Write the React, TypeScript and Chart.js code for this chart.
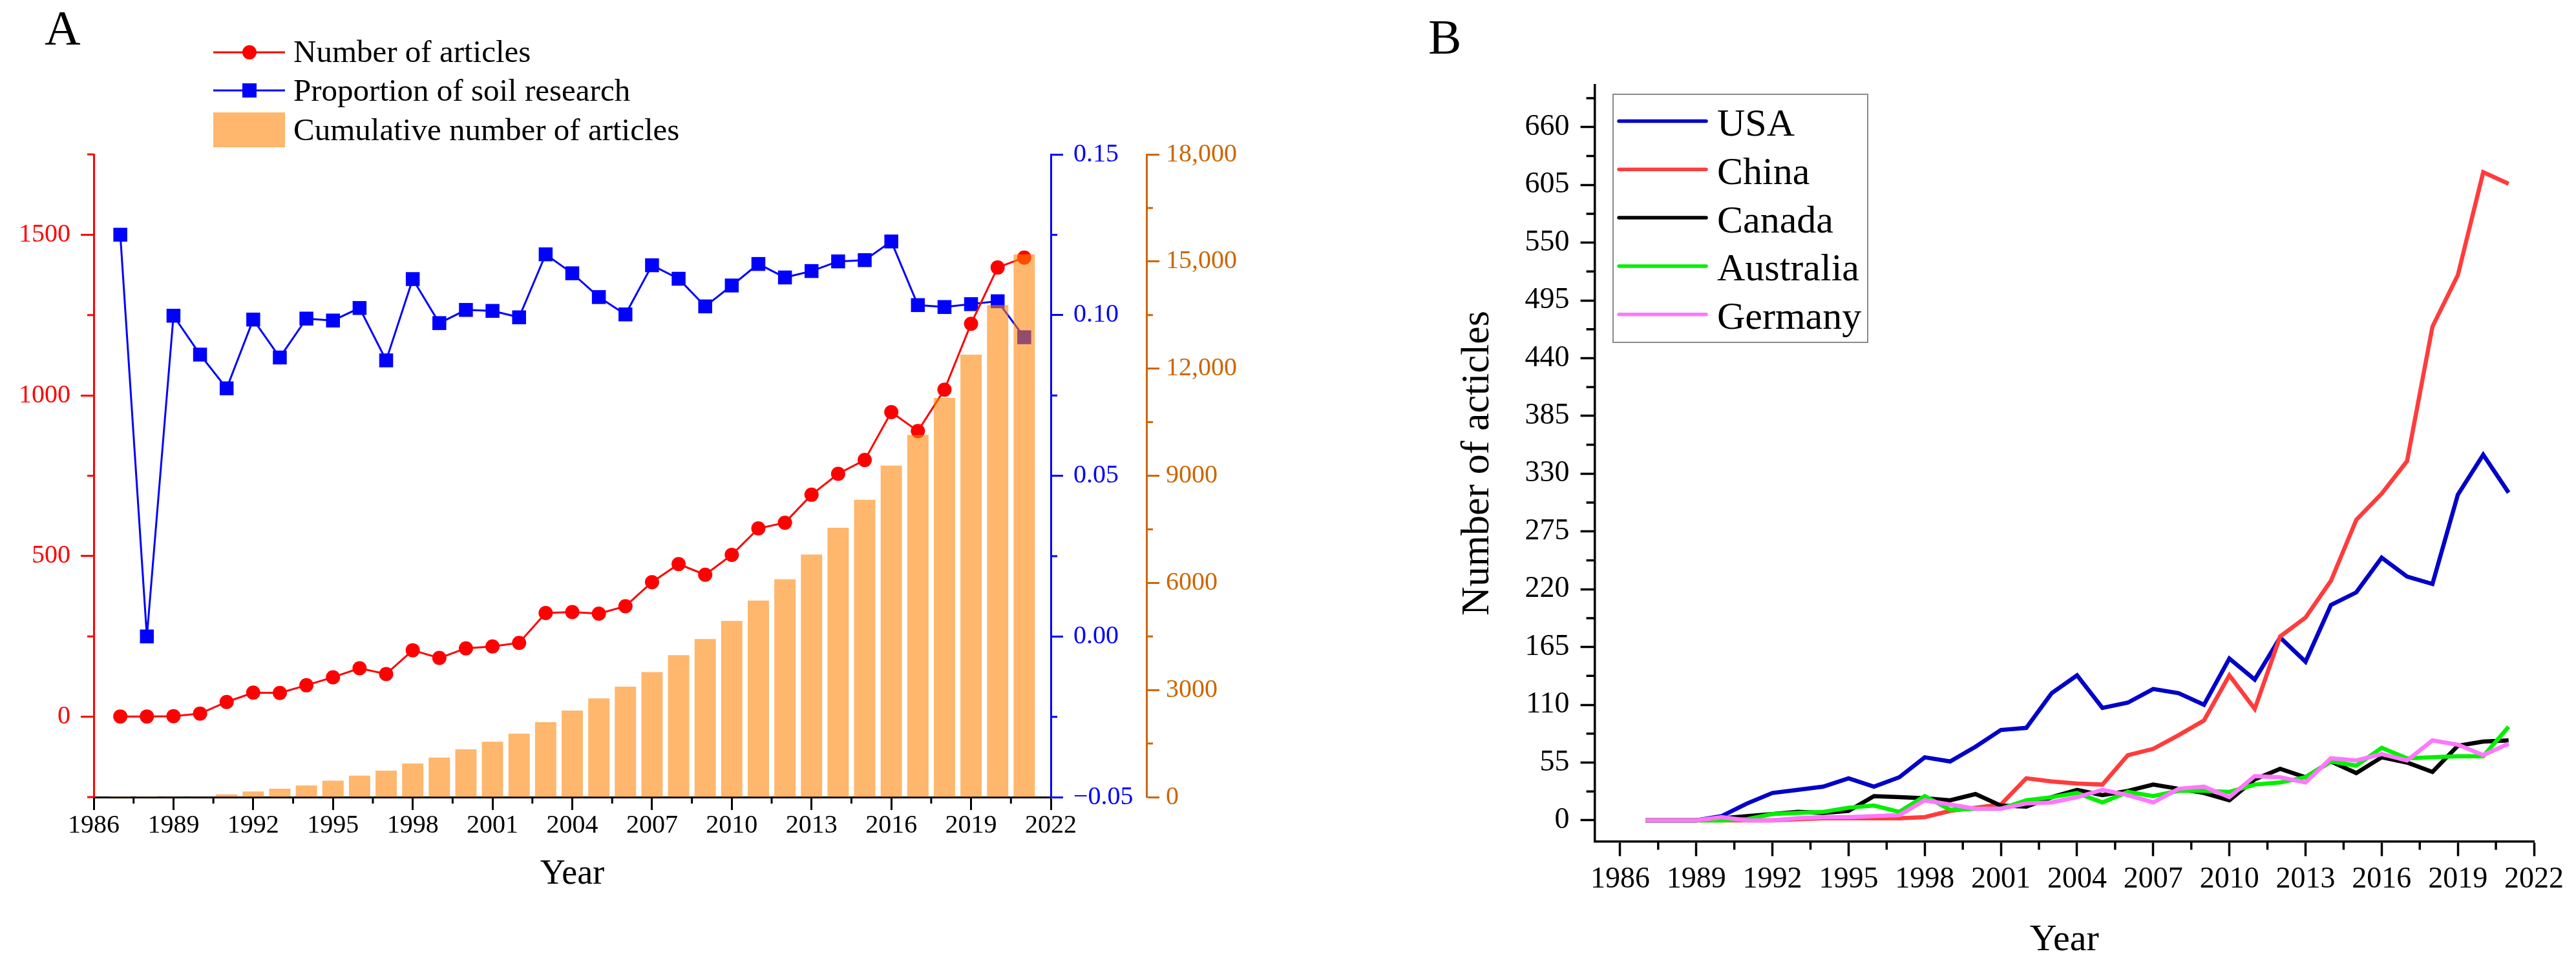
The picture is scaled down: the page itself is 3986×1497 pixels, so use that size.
import React, { useEffect, useRef } from 'react';
import { Chart, registerables } from 'chart.js';

Chart.register(...registerables);

const FONT = "'Liberation Serif', 'Times New Roman', serif";

// ---------------- Panel A data ----------------
const YEARS = [1987, 1988, 1989, 1990, 1991, 1992, 1993, 1994, 1995, 1996, 1997, 1998, 1999, 2000, 2001, 2002, 2003, 2004, 2005, 2006, 2007, 2008, 2009, 2010, 2011, 2012, 2013, 2014, 2015, 2016, 2017, 2018, 2019, 2020, 2021];
const ARTICLES = [1, 1, 2, 10, 46, 75, 74, 98, 123, 151, 133, 207, 183, 213, 219, 230, 323, 326, 321, 344, 419, 475, 442, 504, 586, 604, 691, 756, 799, 948, 889, 1018, 1223, 1398, 1429];
const SOIL_PROPORTION = [0.125, 0.0, 0.0998, 0.0877, 0.0772, 0.0986, 0.0868, 0.0989, 0.0983, 0.1022, 0.0859, 0.1112, 0.0975, 0.1016, 0.1013, 0.0993, 0.1189, 0.113, 0.1056, 0.1002, 0.1155, 0.1113, 0.1027, 0.1092, 0.1159, 0.1117, 0.1137, 0.1167, 0.1171, 0.1229, 0.1031, 0.1025, 0.1034, 0.1043, 0.0931];
const CUMULATIVE = [1, 2, 4, 14, 77, 160, 235, 326, 463, 600, 741, 940, 1107, 1339, 1549, 1778, 2100, 2423, 2762, 3093, 3499, 3976, 4427, 4933, 5503, 6102, 6791, 7545, 8327, 9284, 10145, 11180, 12392, 13779, 15200];
const LEGEND_A = ['Number of articles', 'Proportion of soil research', 'Cumulative number of articles'];

const X_MAJOR = [1986, 1989, 1992, 1995, 1998, 2001, 2004, 2007, 2010, 2013, 2016, 2019, 2022];
const A_LEFT_MAJOR = [0, 500, 1000, 1500];
const A_LEFT_MINOR = [-250, 250, 750, 1250, 1750];
const A_PROP_MAJOR = [-0.05, 0, 0.05, 0.1, 0.15];
const A_PROP_MINOR = [-0.025, 0.025, 0.075, 0.125];
const A_CUM_MAJOR = [0, 3000, 6000, 9000, 12000, 15000, 18000];
const A_CUM_MINOR = [1500, 4500, 7500, 10500, 13500, 16500];

// ---------------- Panel B data ----------------
const COUNTRIES = ['USA', 'China', 'Canada', 'Australia', 'Germany'];
const USA = [0, 0, 0, 4, 16, 26, 29, 32, 40, 32, 41, 60, 56, 70, 86, 88, 121, 138, 107, 112, 125, 121, 110, 154, 134, 174, 151, 205, 217, 250, 232, 225, 310, 348, 312];
const CHINA = [0, 0, 0, 0, 0, 0, 1, 2, 2, 2, 2, 3, 9, 12, 15, 40, 37, 35, 34, 62, 68, 81, 95, 138, 106, 175, 193, 228, 286, 311, 342, 470, 519, 617, 606];
const CANADA = [0, 0, 0, 2, 4, 6, 8, 7, 9, 23, 22, 21, 19, 25, 14, 13, 22, 29, 24, 28, 34, 30, 26, 19, 39, 49, 41, 56, 45, 60, 55, 46, 71, 75, 76];
const AUSTRALIA = [0, 0, 0, 0, 1, 6, 7, 8, 12, 14, 8, 23, 10, 11, 11, 19, 22, 26, 17, 27, 23, 28, 28, 27, 34, 36, 41, 56, 52, 69, 59, 60, 61, 61, 89];
const GERMANY = [0, 0, 0, 3, 0, 0, 2, 3, 3, 4, 5, 19, 15, 11, 11, 16, 17, 22, 29, 24, 17, 30, 32, 22, 42, 41, 36, 59, 57, 63, 57, 76, 72, 62, 73];
const B_COLORS = ['#0000C8', '#FF3C3C', '#000000', '#00F000', '#FF77FF'];
const B_Y_MAJOR = [0, 55, 110, 165, 220, 275, 330, 385, 440, 495, 550, 605, 660];
const B_Y_MINOR = [27.5, 82.5, 137.5, 192.5, 247.5, 302.5, 357.5, 412.5, 467.5, 522.5, 577.5, 632.5, 687.5];

const midpoints = (arr: number[]) => arr.slice(1).map((v, i) => (v + arr[i]) / 2);
const X_MINOR = midpoints(X_MAJOR);

const RED = '#FF0000';
const BLUE = '#0000FF';
const ORANGE_AXIS = '#CC6600';
const BAR_FILL = 'rgba(253,131,2,0.58)';

const pts = (ys: number[]) => YEARS.map((x, i) => ({ x, y: ys[i] }));

type MinorSpec = { id: string; values: number[]; len: number; color: string; width: number };
function minorTicksPlugin(specs: MinorSpec[]) {
  return {
    id: 'minorTicks',
    afterDraw(chart: any) {
      const ctx = chart.ctx;
      specs.forEach((s) => {
        const sc = chart.scales[s.id];
        if (!sc) return;
        ctx.save();
        ctx.strokeStyle = s.color;
        ctx.lineWidth = s.width;
        ctx.beginPath();
        s.values.forEach((v) => {
          const p = sc.getPixelForValue(v);
          if (sc.isHorizontal()) {
            ctx.moveTo(p, sc.top);
            ctx.lineTo(p, sc.top + s.len);
          } else if (sc.position === 'left') {
            ctx.moveTo(sc.right, p);
            ctx.lineTo(sc.right - s.len, p);
          } else {
            ctx.moveTo(sc.left, p);
            ctx.lineTo(sc.left + s.len, p);
          }
        });
        ctx.stroke();
        ctx.restore();
      });
    },
  };
}

function axisStyle(color: string, tickLen: number, width: number, fontSize: number, pad: number, labelColor?: string) {
  return {
    border: { display: true, color, width },
    grid: { display: true, drawOnChartArea: false, drawTicks: true, tickLength: tickLen, tickWidth: width, tickColor: color, color },
    ticks: {
      color: labelColor || color,
      font: { family: FONT, size: fontSize },
      padding: pad,
      autoSkip: false,
      maxRotation: 0,
      minRotation: 0,
    },
  };
}

const setTicks = (vals: number[]) => (scale: any) => {
  scale.ticks = vals.map((v) => ({ value: v }));
};

// ---------------- Panel A config ----------------
function configA(): any {
  const legendA = {
    id: 'legendA',
    afterDraw(chart: any) {
      const ctx = chart.ctx;
      ctx.save();
      // panel letter
      ctx.fillStyle = '#000';
      ctx.font = `77px ${FONT}`;
      ctx.textBaseline = 'alphabetic';
      ctx.textAlign = 'left';
      ctx.fillText('A', 69, 69);
      // row 1
      ctx.strokeStyle = RED;
      ctx.lineWidth = 3;
      ctx.beginPath();
      ctx.moveTo(330, 81);
      ctx.lineTo(441, 81);
      ctx.stroke();
      ctx.fillStyle = RED;
      ctx.beginPath();
      ctx.arc(386, 81, 11, 0, Math.PI * 2);
      ctx.fill();
      // row 2
      ctx.strokeStyle = BLUE;
      ctx.beginPath();
      ctx.moveTo(330, 140);
      ctx.lineTo(441, 140);
      ctx.stroke();
      ctx.fillStyle = BLUE;
      ctx.fillRect(386 - 11, 140 - 11, 22, 22);
      // row 3
      ctx.fillStyle = BAR_FILL;
      ctx.fillRect(330, 174, 111, 54);
      // texts
      ctx.fillStyle = '#000';
      ctx.font = `49px ${FONT}`;
      ctx.fillText(LEGEND_A[0], 454, 96);
      ctx.fillText(LEGEND_A[1], 454, 156);
      ctx.fillText(LEGEND_A[2], 454, 217);
      ctx.restore();
    },
  };

  return {
    type: 'bar',
    data: {
      datasets: [
        {
          type: 'bar',
          label: LEGEND_A[2],
          data: pts(CUMULATIVE),
          yAxisID: 'yCum',
          xAxisID: 'x',
          backgroundColor: BAR_FILL,
          borderWidth: 0,
          barPercentage: 1.0,
          categoryPercentage: 0.8,
          order: 0,
        },
        {
          type: 'line',
          label: LEGEND_A[0],
          data: pts(ARTICLES),
          yAxisID: 'yArt',
          xAxisID: 'x',
          borderColor: RED,
          backgroundColor: RED,
          borderWidth: 3,
          pointStyle: 'circle',
          pointRadius: 11,
          pointBorderWidth: 0,
          pointBackgroundColor: RED,
          tension: 0,
          fill: false,
          order: 1,
        },
        {
          type: 'line',
          label: LEGEND_A[1],
          data: pts(SOIL_PROPORTION),
          yAxisID: 'yProp',
          xAxisID: 'x',
          borderColor: BLUE,
          backgroundColor: BLUE,
          borderWidth: 3,
          pointStyle: 'rect',
          pointRadius: 15.2,
          pointBorderWidth: 0,
          pointBackgroundColor: BLUE,
          tension: 0,
          fill: false,
          order: 2,
        },
      ],
    },
    options: {
      responsive: false,
      animation: false,
      devicePixelRatio: 1,
      events: [],
      layout: { padding: { top: 239, left: 0, right: 0, bottom: 0 } },
      plugins: { legend: { display: false }, tooltip: { enabled: false }, title: { display: false } },
      scales: {
        x: {
          type: 'linear',
          position: 'bottom',
          min: 1986,
          max: 2022,
          offset: false,
          afterBuildTicks: setTicks(X_MAJOR),
          afterFit: (s: any) => {
            s.height = 263;
          },
          ...axisStyle('#000', 20, 3, 40, 0),
          grid: { display: true, offset: false, drawOnChartArea: false, drawTicks: true, tickLength: 20, tickWidth: 3, tickColor: '#000', color: '#000' },
          ticks: {
            color: '#000',
            font: { family: FONT, size: 40 },
            padding: 0,
            autoSkip: false,
            maxRotation: 0,
            minRotation: 0,
            callback: (v: number) => String(v),
          },
          title: { display: true, text: 'Year', color: '#000', font: { family: FONT, size: 54 }, padding: { top: 0, bottom: 111 } },
        },
        yArt: {
          type: 'linear',
          position: 'left',
          min: -250,
          max: 1750,
          afterBuildTicks: setTicks(A_LEFT_MAJOR),
          afterFit: (s: any) => {
            s.width = 145;
          },
          ...axisStyle(RED, 20, 3, 40, 16),
          ticks: { ...axisStyle(RED, 20, 3, 40, 16).ticks, callback: (v: number) => String(v) },
        },
        yProp: {
          type: 'linear',
          position: 'right',
          weight: 1,
          min: -0.05,
          max: 0.15,
          afterBuildTicks: setTicks(A_PROP_MAJOR),
          afterFit: (s: any) => {
            s.width = 148;
          },
          ...axisStyle(BLUE, 19, 3, 40, 16),
          ticks: {
            ...axisStyle(BLUE, 19, 3, 40, 16).ticks,
            callback: (v: number) => (v < -1e-9 ? '\u2212' + Math.abs(v).toFixed(2) : Math.abs(v).toFixed(2)),
          },
        },
        yCum: {
          type: 'linear',
          position: 'right',
          weight: 2,
          min: 0,
          max: 18000,
          afterBuildTicks: setTicks(A_CUM_MAJOR),
          afterFit: (s: any) => {
            s.width = 186;
          },
          ...axisStyle(ORANGE_AXIS, 20, 3, 40, 10),
          ticks: {
            ...axisStyle(ORANGE_AXIS, 20, 3, 40, 10).ticks,
            callback: (v: number) => (v >= 10000 ? v.toLocaleString('en-US') : String(v)),
          },
        },
      },
    },
    plugins: [
      minorTicksPlugin([
        { id: 'x', values: X_MINOR, len: 10, color: '#000', width: 3 },
        { id: 'yArt', values: A_LEFT_MINOR, len: 10, color: RED, width: 3 },
        { id: 'yProp', values: A_PROP_MINOR, len: 10, color: BLUE, width: 3 },
        { id: 'yCum', values: A_CUM_MINOR, len: 10, color: ORANGE_AXIS, width: 3 },
      ]),
      legendA,
    ],
  };
}

// ---------------- Panel B config ----------------
function configB(): any {
  const series = [USA, CHINA, CANADA, AUSTRALIA, GERMANY];
  const legendB = {
    id: 'legendB',
    afterDraw(chart: any) {
      const ctx = chart.ctx;
      ctx.save();
      ctx.fillStyle = '#000';
      ctx.font = `77px ${FONT}`;
      ctx.textBaseline = 'alphabetic';
      ctx.textAlign = 'left';
      ctx.fillText('B', 60, 83);
      ctx.strokeStyle = '#8a8a8a';
      ctx.lineWidth = 2;
      ctx.strokeRect(346, 146, 394, 384);
      ctx.font = `60px ${FONT}`;
      chart.data.datasets.forEach((ds: any, i: number) => {
        const cy = 187.5 + i * 74.8;
        ctx.strokeStyle = ds.borderColor;
        ctx.lineWidth = 5.5;
        ctx.lineCap = 'round';
        ctx.beginPath();
        ctx.moveTo(355, cy);
        ctx.lineTo(490, cy);
        ctx.stroke();
        ctx.fillStyle = '#000';
        ctx.fillText(ds.label, 507, cy + 22.5);
      });
      ctx.restore();
    },
  };

  return {
    type: 'line',
    data: {
      datasets: COUNTRIES.map((name, i) => ({
        label: name,
        data: pts(series[i]),
        borderColor: B_COLORS[i],
        backgroundColor: B_COLORS[i],
        borderWidth: 6.5,
        pointRadius: 0,
        tension: 0,
        fill: false,
        order: COUNTRIES.length - 1 - i,
      })),
    },
    options: {
      responsive: false,
      animation: false,
      devicePixelRatio: 1,
      events: [],
      layout: { padding: { top: 131.7, left: 0, right: 65, bottom: 0 } },
      plugins: { legend: { display: false }, tooltip: { enabled: false }, title: { display: false } },
      scales: {
        x: {
          type: 'linear',
          position: 'bottom',
          min: 1985,
          max: 2022,
          offset: false,
          afterBuildTicks: setTicks(X_MAJOR),
          afterFit: (s: any) => {
            s.height = 194.6;
          },
          ...axisStyle('#000', 23, 3.5, 46, 9),
          ticks: { ...axisStyle('#000', 23, 3.5, 46, 9).ticks, callback: (v: number) => String(v) },
          title: { display: true, text: 'Year', color: '#000', font: { family: FONT, size: 58 }, padding: { top: 0, bottom: 6 } },
        },
        y: {
          type: 'linear',
          position: 'left',
          min: -20,
          max: 700,
          afterBuildTicks: setTicks(B_Y_MAJOR),
          afterFit: (s: any) => {
            s.width = 317.6;
          },
          ...axisStyle('#000', 22, 3.5, 46, 17),
          ticks: { ...axisStyle('#000', 22, 3.5, 46, 17).ticks, callback: (v: number) => String(v) },
          title: { display: true, text: 'Number of acticles', color: '#000', font: { family: FONT, size: 62 }, padding: { top: 100, bottom: 0 } },
        },
      },
    },
    plugins: [
      minorTicksPlugin([
        { id: 'x', values: X_MINOR, len: 13, color: '#000', width: 3.5 },
        { id: 'y', values: B_Y_MINOR, len: 13, color: '#000', width: 3.5 },
      ]),
      legendB,
    ],
  };
}

function ChartCanvas({ makeConfig, left, width, height }: { makeConfig: () => any; left: number; width: number; height: number }) {
  const ref = useRef<HTMLCanvasElement>(null);
  useEffect(() => {
    if (!ref.current) return;
    const chart = new Chart(ref.current, makeConfig());
    return () => chart.destroy();
  }, []);
  return (
    <canvas
      ref={ref}
      width={width}
      height={height}
      style={{ position: 'absolute', left, top: 0, width, height, display: 'block' }}
    />
  );
}

export default function App() {
  return (
    <div style={{ position: 'absolute', left: 0, top: 0, width: 3986, height: 1497, background: '#fff', overflow: 'hidden' }}>
      <ChartCanvas makeConfig={configA} left={0} width={1960} height={1497} />
      <ChartCanvas makeConfig={configB} left={2150} width={1836} height={1497} />
    </div>
  );
}
